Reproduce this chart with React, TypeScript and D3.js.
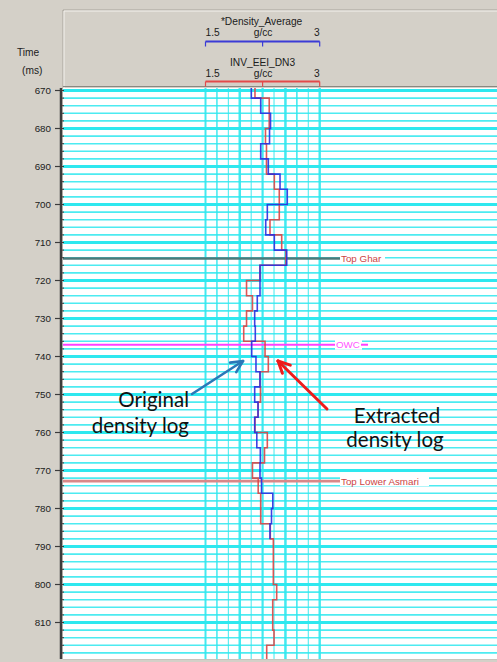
import React from "react";
import * as d3 from "d3";

// ---------- data ----------
const blockStart = 668; // ms, first 4 ms block
const blockStep = 4; // ms
// *Density_Average (original density log), g/cc per 4 ms block
const densityAverage = [
  2.102, 2.225, 2.354, 2.341, 2.225, 2.325, 2.479, 2.574, 2.312, 2.291,
  2.404, 2.567, 2.216, 2.216, 2.18, 2.146, 2.154, 2.107, 2.163, 2.216,
  2.146, 2.19, 2.146, 2.174, 2.22, 2.216, 2.236, 2.384, 2.367, 2.347,
];
// INV_EEI_DN3 (extracted density log), g/cc per 4 ms block
const invEeiDn3 = [
  2.15, 2.337, 2.337, 2.288, 2.301, 2.301, 2.404, 2.469, 2.469, 2.347,
  2.501, 2.557, 2.216, 2.039, 2.117, 2.039, 2.002, 2.282, 2.325, 2.216,
  2.222, 2.19, 2.15, 2.312, 2.275, 2.117, 2.192, 2.225, 2.225, 2.351,
  2.391, 2.391, 2.391, 2.435, 2.383, 2.383, 2.4, 2.304,
];
const timeTicks = [670, 680, 690, 700, 710, 720, 730, 740, 750, 760, 770, 780, 790, 800, 810];
const markerNames = ["Top Ghar", "OWC", "Top Lower Asmari"];
const markerTimes = [714.2, 736.9, 772.8];
const markerColors = ["#4c7a7a", "#ff40ff", "#d98888"];
const markerLabelColors = ["#cc4444", "#ff55ff", "#cc4444"];
const densityTicks = [1.5, 1.65, 1.8, 1.95, 2.1, 2.25, 2.4, 2.55, 2.7, 2.85, 3.0];
const gridWidths = [2, 1.5, 1, 2.5, 1, 2.2, 1, 2.5, 1.6, 1, 2.4];

// ---------- layout ----------
const W = 497;
const H = 662;
const plotLeft = 63;
const plotRight = 497;
const plotTop = 88;
const plotBottom = 659;

const y = d3.scaleLinear().domain([670, 810]).range([90.5, 622.5]);
const x = d3.scaleLinear().domain([1.5, 3]).range([205.5, 319.7]);

function stepPoints(vals: number[]): [number, number][] {
  const pts: [number, number][] = [];
  vals.forEach((v, i) => {
    const t0 = blockStart + i * blockStep;
    pts.push([v, t0]);
    pts.push([v, t0 + blockStep]);
  });
  return pts;
}

const line = d3
  .line<[number, number]>()
  .x((d) => x(d[0]))
  .y((d) => y(d[1]));

const FONT = "'Liberation Sans', Arial, sans-serif";

function Arrow({ x1, y1, x2, y2, color, w }: { x1: number; y1: number; x2: number; y2: number; color: string; w: number }) {
  const ang = Math.atan2(y2 - y1, x2 - x1);
  const L = 13;
  const a1 = ang + Math.PI - 0.45;
  const a2 = ang + Math.PI + 0.45;
  return (
    <g stroke={color} strokeWidth={w} fill="none" strokeLinecap="round">
      <line x1={x1} y1={y1} x2={x2} y2={y2} />
      <line x1={x2} y1={y2} x2={x2 + L * Math.cos(a1)} y2={y2 + L * Math.sin(a1)} />
      <line x1={x2} y1={y2} x2={x2 + L * Math.cos(a2)} y2={y2 + L * Math.sin(a2)} />
    </g>
  );
}

export default function App() {
  const minorTimes = d3.range(670, 820, 2);
  const tMin = y.invert(plotTop);
  const tMax = y.invert(plotBottom);
  const xc = x(2.25);
  return (
    <svg
      width={W}
      height={H}
      viewBox={`0 0 ${W} ${H}`}
      style={{ position: "absolute", left: 0, top: 0, display: "block" }}
      fontFamily={FONT}
    >
      <defs>
        <clipPath id="plotClip">
          <rect x={plotLeft} y={plotTop} width={plotRight - plotLeft} height={plotBottom - plotTop} />
        </clipPath>
      </defs>
      <rect x={0} y={0} width={W} height={H} fill="#d4d0c8" />

      {/* header box */}
      <line x1={plotLeft} y1={10} x2={W} y2={10} stroke="#a9a59d" strokeWidth={1} />
      <line x1={plotLeft} y1={10} x2={plotLeft} y2={plotTop} stroke="#a9a59d" strokeWidth={1} />
      <line x1={plotLeft + 1} y1={11} x2={W} y2={11} stroke="#f4f2ee" strokeWidth={1} />
      <line x1={plotLeft + 1} y1={11} x2={plotLeft + 1} y2={plotTop} stroke="#f4f2ee" strokeWidth={1} />
      <line x1={plotLeft} y1={86.5} x2={W} y2={86.5} stroke="#8a8780" strokeWidth={1} />

      {/* header titles */}
      <g fontSize={10.2} fill="#202020">
        <text x={xc - 1} y={25} textAnchor="middle">*Density_Average</text>
        <text x={x(1.5)} y={36}>1.5</text>
        <text x={xc + 0.5} y={36} textAnchor="middle">g/cc</text>
        <text x={x(3)} y={36} textAnchor="end">3</text>
        <text x={xc} y={66} textAnchor="middle">INV_EEI_DN3</text>
        <text x={x(1.5)} y={77}>1.5</text>
        <text x={xc + 0.5} y={77} textAnchor="middle">g/cc</text>
        <text x={x(3)} y={77} textAnchor="end">3</text>
        <text x={17} y={56}>Time</text>
        <text x={22} y={74}>(ms)</text>
      </g>
      {[
        { yy: 41.5, c: "#3b3bd6" },
        { yy: 81.5, c: "#e24a4a" },
      ].map((b, i) => (
        <g key={i} stroke={b.c} strokeWidth={2} fill="none">
          <line x1={x(1.5)} y1={b.yy} x2={x(3)} y2={b.yy} />
          <line x1={x(1.5)} y1={b.yy} x2={x(1.5)} y2={b.yy + 5} strokeWidth={1.2} />
          <line x1={x(3)} y1={b.yy} x2={x(3)} y2={b.yy + 5} strokeWidth={1.2} />
          <line x1={x(2.25)} y1={b.yy} x2={x(2.25)} y2={b.yy + 5} strokeWidth={1.2} />
        </g>
      ))}

      {/* plot area */}
      <rect x={plotLeft} y={plotTop} width={plotRight - plotLeft} height={plotBottom - plotTop} fill="#ffffff" />
      <g clipPath="url(#plotClip)">
        {minorTimes.map((t) => (
          <line
            key={"h" + t}
            x1={plotLeft}
            x2={plotRight}
            y1={y(t)}
            y2={y(t)}
            stroke="#2ee8ef"
            strokeWidth={t % 10 === 0 ? 3.2 : 1.6}
            opacity={t % 10 === 0 ? 1 : 0.85}
          />
        ))}
        {densityTicks.map((d, i) => (
          <line
            key={"v" + i}
            x1={x(d)}
            x2={x(d)}
            y1={plotTop}
            y2={plotBottom}
            stroke="#2ee8ef"
            strokeWidth={gridWidths[i]}
            opacity={0.9}
          />
        ))}

        {/* markers */}
        {markerNames.map((name, i) => {
          const yy = y(markerTimes[i]);
          const isOwc = name === "OWC";
          const lx = isOwc ? 336 : 341;
          const tw = isOwc ? 24 : name === "Top Ghar" ? 42 : 86;
          return (
            <g key={name}>
              <line x1={plotLeft} x2={lx - 1} y1={yy} y2={yy} stroke={markerColors[i]} strokeWidth={isOwc ? 2 : 2.6} />
              <rect x={lx - 1} y={yy - 6} width={tw + 3} height={11} fill="#ffffff" />
              <text x={lx} y={yy + 3.5} fontSize={9.8} fill={markerLabelColors[i]}>
                {name}
              </text>
              {isOwc && (
                <line x1={lx + tw + 1} x2={lx + tw + 8} y1={yy} y2={yy} stroke={markerColors[i]} strokeWidth={2} />
              )}
            </g>
          );
        })}

        {/* logs */}
        <path d={line(stepPoints(invEeiDn3)) ?? ""} fill="none" stroke="#dd4444" strokeWidth={1.6} opacity={0.9} />
        <path d={line(stepPoints(densityAverage)) ?? ""} fill="none" stroke="#2a2ee0" strokeWidth={1.6} opacity={0.9} />
      </g>
      <line x1={plotLeft} y1={plotBottom + 0.5} x2={W} y2={plotBottom + 0.5} stroke="#c8c4bc" strokeWidth={1} />

      {/* y axis */}
      <line x1={61} y1={plotTop} x2={61} y2={plotBottom} stroke="#3c3c3c" strokeWidth={2.5} />
      {minorTimes
        .filter((t) => t >= tMin && t <= tMax)
        .map((t) => (
          <line key={"mt" + t} x1={61} x2={64} y1={y(t)} y2={y(t)} stroke="#3c3c3c" strokeWidth={1} />
        ))}
      {timeTicks.map((t) => (
        <g key={"t" + t}>
          <line x1={55} x2={61} y1={y(t)} y2={y(t)} stroke="#3c3c3c" strokeWidth={1.2} />
          <text x={51} y={y(t) + 3.5} textAnchor="end" fontSize={9.8} fill="#202020">
            {t}
          </text>
        </g>
      ))}

      {/* annotations */}
      <g fontFamily="Lato, 'Open Sans', sans-serif" fontSize={20.5} fill="#111111">
        <text x={189} y={407} textAnchor="end">Original</text>
        <text x={189} y={433} textAnchor="end">density log</text>
        <text x={397} y={423} textAnchor="middle">Extracted</text>
        <text x={395} y={447} textAnchor="middle">density log</text>
      </g>
      <Arrow x1={192} y1={394} x2={243} y2={361} color="#2a78b8" w={2.6} />
      <Arrow x1={327} y1={409} x2={278} y2={361} color="#ee1c1c" w={3} />
    </svg>
  );
}
